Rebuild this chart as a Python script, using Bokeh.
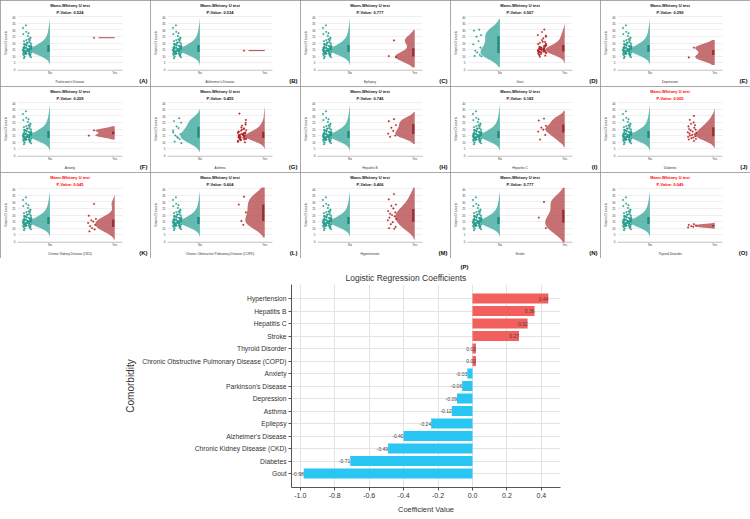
import numpy as np
from bokeh.plotting import figure
from bokeh.layouts import gridplot, column
from bokeh.models import Range1d, FixedTicker, Title, Label, ColumnDataSource, PrintfTickFormatter
from bokeh.core.properties import value
from bokeh.embed import file_html
from bokeh.resources import INLINE

# ---------------- data: raincloud panels ----------------
PANEL_LETTERS = ["A", "B", "C", "D", "E", "F", "G", "H", "I", "J", "K", "L", "M", "N", "O"]
PANEL_NAMES = ["Parkinson's Disease", "Alzheimer's Disease", "Epilepsy", "Gout", "Depression",
               "Anxiety", "Asthma", "Hepatitis B", "Hepatitis C", "Diabetes",
               "Chronic Kidney Disease (CKD)", "Chronic Obstructive Pulmonary Disease (COPD)",
               "Hypertension", "Stroke", "Thyroid Disorder"]
P_VALUES = [0.524, 0.534, 0.777, 0.567, 0.299, 0.209, 0.455, 0.746, 0.182, 0.005,
            0.045, 0.604, 0.406, 0.777, 0.049]
GROUP_LABELS = ["No", "Yes"]

# Vitamin D levels of patients without the comorbidity (common cohort)
NO_BASE = [15.2, 12.8, 18.4, 14.1, 22.7, 16.3, 11.5, 13.9, 20.1, 15.8, 9.6, 17.2, 14.6, 25.4,
           12.2, 16.9, 19.3, 13.4, 10.8, 15.5, 28.6, 14.9, 12.5, 17.8, 21.4, 16.1, 11.9, 13.7,
           15.0, 24.1, 18.9, 14.3, 10.2, 16.6, 12.9, 31.5, 15.3, 13.1, 19.8, 17.5, 11.2, 14.7,
           23.3, 16.4, 12.0, 15.9, 20.6, 13.6, 9.1, 18.1, 14.4, 26.8, 16.8, 12.4, 15.6, 21.9,
           13.3, 17.0, 11.7, 14.0, 33.5, 15.1, 19.0, 12.7, 16.2, 10.5, 22.2, 14.8, 13.0, 17.6,
           8.4, 15.4, 18.6, 27.5, 13.8, 16.0, 11.4, 20.4, 14.2, 12.3]
GOUT_NO = [30.2, 29.5, 26.0, 24.8, 21.5, 19.0, 16.5, 14.2, 12.8, 11.0, 10.1, 9.8]
ASTHMA_NO = [28.3, 26.1, 24.9, 22.0, 20.7, 17.4, 16.2, 15.1, 14.0, 12.3, 10.4, 9.2, 18.8, 13.2]

YES_A = [24.0]
YES_B = [14.2]
YES_C = [22.0, 10.0, 9.2]
YES_D = [16.1, 13.2, 19.5, 14.8, 23.6, 12.1, 17.3, 15.4, 28.4, 13.7, 10.9, 18.2, 14.3, 21.0,
         16.7, 12.6, 15.9, 30.3, 13.9, 17.9, 11.6, 14.6, 20.2, 15.1, 12.9, 24.8, 16.4, 13.5,
         19.1, 10.4, 15.7, 22.3, 14.0, 17.0, 12.3, 26.1, 15.2, 13.0, 18.6, 11.1, 16.0, 14.5,
         20.9, 12.7, 15.5, 9.5, 17.6, 13.4, 25.6, 14.9]
YES_E = [16.5, 9.0]
YES_F = [19.0, 15.0]
YES_G = [14.6, 17.8, 12.4, 21.2, 15.3, 10.7, 16.5, 13.1, 19.6, 14.2, 31.8, 12.9, 17.1, 15.8,
         11.5, 23.4, 14.0, 16.9, 13.6, 9.8, 18.7, 15.0, 12.2, 20.5, 14.7, 26.9, 16.2, 13.3,
         11.0, 17.4, 15.6, 22.6, 12.6, 14.4, 19.0, 10.3, 16.0, 13.8, 24.7, 15.2, 12.0, 18.1,
         14.9, 11.8, 16.7, 13.0, 20.0, 15.4]
YES_H = [27.5, 26.0, 23.0, 21.0, 18.5, 16.5, 15.0, 14.0]
YES_I = [28.0, 26.5, 22.5, 21.0, 19.5, 18.0, 15.5, 12.0]
YES_J = [11.0, 12.0, 12.5, 13.0, 13.5, 14.0, 14.5, 15.0, 15.5, 16.0, 16.5, 17.0, 17.5, 18.0,
         19.0, 19.5, 20.0, 21.0, 22.0, 23.0, 24.0, 25.0, 27.0, 30.0]
YES_K = [28.5, 19.5, 17.0, 16.0, 15.0, 14.0, 12.5, 11.5, 10.0, 9.0, 7.5]
YES_L = [34.0, 28.0, 22.0, 15.5, 12.5]
YES_M = [36.0, 32.0, 28.0, 27.0, 25.0, 23.0, 22.0, 21.0, 20.0, 19.0, 18.0, 17.0, 16.0, 14.5,
         13.0, 11.0, 10.0, 9.5]
YES_N = [30.0, 18.0, 10.0]
YES_O = [13.0, 12.5, 12.0, 11.5, 11.0, 10.5]

NO_GROUPS = [NO_BASE, NO_BASE, NO_BASE, GOUT_NO, NO_BASE, NO_BASE, ASTHMA_NO, NO_BASE, NO_BASE,
             NO_BASE, NO_BASE, NO_BASE, NO_BASE, NO_BASE, NO_BASE]
YES_GROUPS = [YES_A, YES_B, YES_C, YES_D, YES_E, YES_F, YES_G, YES_H, YES_I, YES_J, YES_K,
              YES_L, YES_M, YES_N, YES_O]

# ---------------- data: logistic regression ----------------
COEF_NAMES = ["Hypertension", "Hepatitis B", "Hepatitis C", "Stroke", "Thyroid Disorder",
              "Chronic Obstructive Pulmonary Disease (COPD)", "Anxiety", "Parkinson's Disease",
              "Depression", "Asthma", "Epilepsy", "Alzheimer's Disease",
              "Chronic Kidney Disease (CKD)", "Diabetes", "Gout"]
COEF_VALUES = [0.44, 0.36, 0.32, 0.27, 0.02, 0.02, -0.03, -0.06, -0.09, -0.12, -0.24, -0.40,
               -0.49, -0.71, -0.98]
X_TICKS = [-1.0, -0.8, -0.6, -0.4, -0.2, 0.0, 0.2, 0.4]

# ---------------- styles ----------------
JITTER = [0.03, -0.05, 0.06, -0.01, 0.02, -0.06, 0.05, -0.03, 0.0, 0.04, -0.04, 0.065,
          -0.065, 0.01, -0.02, 0.055, -0.045, 0.035, -0.055, 0.045, -0.015, 0.025, -0.035]
TEAL_PT, TEAL_FILL, TEAL_BOX = "#2a9d8f", "#3aa89b", "#1f8a7e"
RED_PT, RED_FILL, RED_BOX = "#b22222", "#b5484b", "#9a2b30"
FONT = "Liberation Sans"


def small_panel(letter, name, pval, no_vals, yes_vals):
    title_color = "#ff0000" if pval < 0.05 else "#111111"
    p = figure(width=150, height=86, x_range=Range1d(-0.5, 1.12), y_range=Range1d(-1, 41),
               output_backend="svg", toolbar_location=None, title=None,
               min_border_left=17, min_border_right=28, min_border_top=11, min_border_bottom=14)
    p.outline_line_color = None
    p.xgrid.grid_line_color = None
    p.ygrid.grid_line_color = "#e4e4e4"
    p.ygrid.grid_line_width = 0.6
    p.yaxis.ticker = FixedTicker(ticks=list(range(0, 41, 5)))
    p.xaxis.ticker = FixedTicker(ticks=[0, 1])
    p.xaxis.major_label_overrides = {0: GROUP_LABELS[0], 1: GROUP_LABELS[1]}
    for ax in (p.xaxis[0], p.yaxis[0]):
        ax.major_label_text_font_size = "3px"
        ax.major_label_text_font = FONT
        ax.major_label_text_color = "#444444"
        ax.axis_label_text_font_size = "3.2px"
        ax.axis_label_text_font = FONT
        ax.axis_label_text_font_style = "normal"
        ax.axis_label_text_color = "#333333"
        ax.major_tick_line_color = None
        ax.minor_tick_line_color = None
        ax.major_tick_out = 0
        ax.major_tick_in = 0
        ax.minor_tick_out = 0
        ax.minor_tick_in = 0
        ax.major_label_standoff = 1
    p.yaxis.axis_line_color = None
    p.xaxis.axis_line_color = "#bdbdbd"
    p.xaxis.axis_line_width = 0.7
    p.yaxis.axis_label = "Vitamin D Levels"
    p.yaxis.axis_label_standoff = 2
    p.yaxis.major_label_standoff = 2
    p.xaxis.axis_label = name
    p.xaxis.axis_label_standoff = 2

    groups = [(0, no_vals, TEAL_PT, TEAL_FILL, TEAL_BOX), (1, yes_vals, RED_PT, RED_FILL, RED_BOX)]
    for cat, vals, cpt, cfill, cbox in groups:
        v = np.asarray(vals, dtype=float)
        if len(v) > 1:
            bw = 0.55 * v.std(ddof=1)
            grid = np.linspace(v.min() - 2 * bw, v.max() + 2 * bw, 140)
            dens = np.exp(-0.5 * ((grid[:, None] - v[None, :]) / bw) ** 2).sum(axis=1)
            half = 0.3 * dens / dens.max()
            p.harea(y=grid, x1=cat - half, x2=np.full_like(grid, cat),
                    fill_color=cfill, fill_alpha=0.78)
            q1, q3 = np.percentile(v, [25, 75])
            p.quad(left=cat - 0.04, right=cat - 0.005, bottom=q1, top=q3,
                   fill_color=cbox, line_color=None)
        else:
            p.segment(x0=cat - 0.25, x1=cat, y0=v[0], y1=v[0], line_color=cfill, line_width=1)
        xs = cat - 0.35 + np.array([JITTER[i % len(JITTER)] for i in range(len(v))])
        p.scatter(xs, v, size=1.7, fill_color=cpt, line_color=cpt, line_width=0.3, alpha=0.9)

    p.add_layout(Title(text=f"P-Value: {pval:.3f}", align="center", text_font_size="4px",
                       text_font_style="bold", text_color=title_color, standoff=1,
                       text_font=FONT), "above")
    p.add_layout(Title(text="Mann-Whitney U test", align="center", text_font_size="4px",
                       text_font_style="bold", text_color=title_color, standoff=0,
                       text_font=FONT), "above")
    p.add_layout(Label(x=25, y=-10.5, x_units="screen", y_units="screen", text=f"({letter})",
                       text_align="right", text_baseline="middle", text_font_size="6px",
                       text_font_style="bold", text_color="#111111", text_font=FONT), "right")
    p.styles = {"outline": "1px solid #8c8c8c", "outline-offset": "-1px"}
    return p


panels = [small_panel(PANEL_LETTERS[i], PANEL_NAMES[i], P_VALUES[i], NO_GROUPS[i], YES_GROUPS[i])
          for i in range(len(PANEL_LETTERS))]
grid = gridplot(panels, ncols=5, toolbar_location=None)

# ---------------- bar chart ----------------
n = len(COEF_NAMES)
ypos = [n - 1 - i for i in range(n)]
src = ColumnDataSource(dict(
    y=ypos, coef=COEF_VALUES,
    color=["#f25f5c" if c > 0 else "#29c6f3" for c in COEF_VALUES],
    label=[f"{c:.2f}" for c in COEF_VALUES],
))

bar = figure(width=750, height=261, x_range=Range1d(-1.051, 0.511), y_range=Range1d(-1.12, n - 1 + 1.12),
             output_backend="svg", toolbar_location=None, title=None,
             min_border_left=291, min_border_right=190, min_border_top=26, min_border_bottom=32)
bar.outline_line_color = None
bar.hbar(y="y", left=0, right="coef", height=0.8, fill_color="color", line_color=None, source=src)
bar.text(x="coef", y="y", text="label", text_align="right", text_baseline="middle",
         text_font_size="5px", text_color="#444444", text_font=value(FONT), source=src)

bar.xaxis.ticker = FixedTicker(ticks=X_TICKS)
bar.xaxis.formatter = PrintfTickFormatter(format="%.1f")
bar.yaxis.ticker = FixedTicker(ticks=ypos)
bar.yaxis.major_label_overrides = {ypos[i]: COEF_NAMES[i] for i in range(n)}
bar.xgrid.grid_line_color = "#e3e3e3"
bar.ygrid.grid_line_color = "#e3e3e3"
for ax in (bar.xaxis[0], bar.yaxis[0]):
    ax.axis_line_color = "#555555"
    ax.major_tick_line_color = "#555555"
    ax.major_tick_out = 3
    ax.major_tick_in = 0
    ax.minor_tick_line_color = None
    ax.major_label_text_font = FONT
    ax.major_label_text_color = "#333333"
    ax.major_label_standoff = 2
    ax.axis_label_text_font = FONT
    ax.axis_label_text_font_style = "normal"
    ax.axis_label_text_color = "#333333"
bar.yaxis.major_label_text_font_size = "6.7px"
bar.xaxis.major_label_text_font_size = "7px"
bar.yaxis.axis_label = "Comorbidity"
bar.yaxis.axis_label_text_font_size = "10px"
bar.yaxis.axis_label_standoff = 3
bar.xaxis.axis_label = "Coefficient Value"
bar.xaxis.axis_label_text_font_size = "7.5px"
bar.xaxis.axis_label_standoff = 4

bar.add_layout(Title(text="Logistic Regression Coefficients", align="left", offset=54,
                     text_font_size="8.5px", text_font_style="normal", text_color="#333333",
                     text_font=FONT, standoff=3), "above")
bar.add_layout(Title(text="(P)", align="left", offset=169, text_font_size="6px",
                     text_font_style="bold", text_color="#111111", standoff=0,
                     text_font=FONT), "above")

layout = column(grid, bar)
open("out.html", "w").write(file_html(layout, INLINE))
